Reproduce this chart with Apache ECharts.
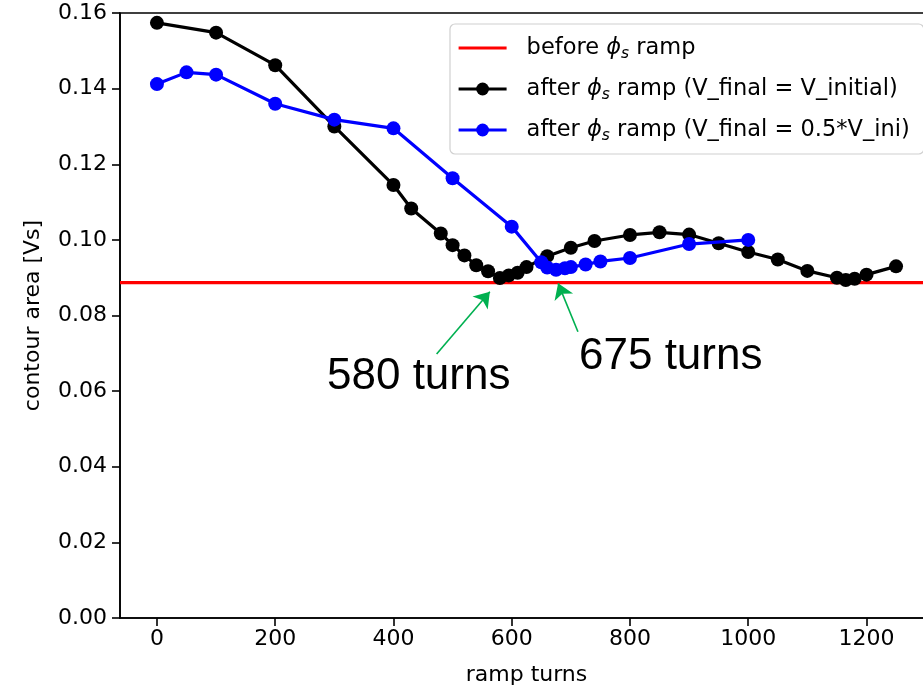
<!DOCTYPE html>
<html>
<head>
<meta charset="utf-8">
<script src="https://cdn.jsdelivr.net/npm/echarts@6/dist/echarts.min.js"></script>
<style>
  html, body { margin: 0; padding: 0; background: #fff; }
  #chart { width: 923px; height: 689px; }
</style>
</head>
<body>
<div id="chart"></div>
<script>
// Contour area vs. number of ramp turns
const xTicks = [0, 200, 400, 600, 800, 1000, 1200];
const xRange = [-62.5, 1312.5];

const beforeLevel = 0.0887;

const blackTurns = [0, 100, 200, 300, 400, 430, 480, 500, 520, 540, 560, 580, 595, 610, 625,
  660, 700, 740, 800, 850, 900, 950, 1000, 1050, 1100, 1150, 1165, 1180, 1200, 1250];
const blackArea = [0.1574, 0.1548, 0.1462, 0.1300, 0.1145, 0.1083, 0.1017, 0.0986, 0.0959,
  0.0933, 0.0917, 0.0899, 0.0906, 0.0913, 0.0928, 0.0957, 0.0979, 0.0997, 0.1013, 0.1020,
  0.1014, 0.0991, 0.0968, 0.0948, 0.0918, 0.0900, 0.0894, 0.0897, 0.0908, 0.0930];

const blueTurns = [0, 50, 100, 200, 300, 400, 500, 600, 650, 660, 675, 690, 700, 725, 750, 800, 900, 1000];
const blueArea = [0.1412, 0.1443, 0.1437, 0.1360, 0.1318, 0.1295, 0.1163, 0.1035, 0.0941,
  0.0927, 0.0921, 0.0925, 0.0928, 0.0935, 0.0943, 0.0952, 0.0989, 0.1000];

const seriesNames = [
  'before ϕs ramp',
  'after ϕs ramp (V_final = V_initial)',
  'after ϕs ramp (V_final = 0.5*V_ini)'
];

// annotation arrows (tail -> head), in turns / contour area
const arrowA = [[473, 0.0698], [563, 0.0863]];
const arrowB = [[712, 0.0757], [678.5, 0.0885]];
const noteA = '580 turns';
const noteB = '675 turns';

const pairs = (xs, ys) => xs.map((x, i) => [x, ys[i]]);

const FONT = 'DejaVu Sans';
const GREEN = '#00b050';
const LW = 3.2;

const chart = echarts.init(document.getElementById('chart'), null, { renderer: 'canvas' });

const option = {
  animation: false,
  backgroundColor: '#fff',
  grid: {
    left: 120, top: 13, right: -10, bottom: 71,
    show: true, borderColor: '#000', borderWidth: 1.6,
    containLabel: false, outerBoundsMode: 'none'
  },
  xAxis: {
    type: 'value',
    min: xRange[0], max: xRange[1],
    name: 'ramp turns',
    nameLocation: 'middle', nameGap: 46,
    nameTextStyle: { fontFamily: FONT, fontSize: 22, color: '#000' },
    axisLine: { show: true, onZero: false, lineStyle: { color: '#000', width: 1.6 } },
    axisTick: { show: true, inside: false, length: 8, lineStyle: { color: '#000', width: 1.6 }, customValues: xTicks },
    axisLabel: { fontFamily: FONT, fontSize: 22, color: '#000', margin: 10, customValues: xTicks,
      formatter: v => String(v) },
    splitLine: { show: false }
  },
  yAxis: {
    type: 'value',
    min: 0, max: 0.16, interval: 0.02,
    name: 'contour area [Vs]',
    nameLocation: 'middle', nameGap: 76, nameRotate: 90,
    nameTextStyle: { fontFamily: FONT, fontSize: 22, color: '#000' },
    axisLine: { show: true, onZero: false, lineStyle: { color: '#000', width: 1.6 } },
    axisTick: { show: true, inside: false, length: 8, lineStyle: { color: '#000', width: 1.6 } },
    axisLabel: { fontFamily: FONT, fontSize: 22, color: '#000', margin: 13,
      formatter: v => v.toFixed(2) },
    splitLine: { show: false }
  },
  legend: {
    data: [
      { name: seriesNames[0], itemStyle: { color: 'rgba(0,0,0,0)', borderWidth: 0, opacity: 0 } },
      { name: seriesNames[1] },
      { name: seriesNames[2] }
    ],
    orient: 'vertical',
    left: 450, top: 24,
    padding: [10, 14, 10, 7],
    itemWidth: 48, itemHeight: 16, itemGap: 13,
    lineStyle: { width: LW },
    backgroundColor: 'rgba(255,255,255,0.85)',
    borderColor: '#d0d0d0', borderWidth: 1.2, borderRadius: 5,
    formatter: name => name.replace('ϕs', '{phi|ϕ}{sub|s}'),
    textStyle: {
      fontFamily: FONT, fontSize: 22.5, color: '#000', padding: [0, 0, 0, 15], lineHeight: 27,
      rich: {
        phi: { fontFamily: FONT, fontStyle: 'italic', fontSize: 22.5, color: '#000', lineHeight: 27 },
        sub: { fontFamily: FONT, fontStyle: 'italic', fontSize: 15.5, color: '#000', lineHeight: 27, padding: [12, 0, 0, 0] }
      }
    }
  },
  series: [
    {
      name: seriesNames[0], type: 'line',
      data: xRange.map(x => [x, beforeLevel]),
      symbol: 'none', showSymbol: false,
      lineStyle: { color: '#ff0000', width: LW },
      itemStyle: { color: '#ff0000' },
      z: 2
    },
    {
      name: seriesNames[1], type: 'line',
      data: pairs(blackTurns, blackArea),
      symbol: 'circle', symbolSize: 14,
      lineStyle: { color: '#000', width: LW },
      itemStyle: { color: '#000' },
      z: 3
    },
    {
      name: seriesNames[2], type: 'line',
      data: pairs(blueTurns, blueArea),
      symbol: 'circle', symbolSize: 14,
      lineStyle: { color: '#0000ff', width: LW },
      itemStyle: { color: '#0000ff' },
      z: 4
    },
    {
      name: 'arrows', type: 'line', data: [],
      silent: true,
      markLine: {
        silent: true, animation: false,
        symbol: ['none', 'arrow'], symbolSize: 15,
        label: { show: false },
        emphasis: { disabled: true },
        itemStyle: { color: GREEN },
        lineStyle: { color: GREEN, width: 1.6, type: 'solid' },
        data: [
          [{ coord: arrowA[0] }, { coord: arrowA[1] }],
          [{ coord: arrowB[0] }, { coord: arrowB[1] }]
        ]
      },
      z: 5
    }
  ],
  graphic: [
    { type: 'text', left: 327, top: 355, z: 10,
      style: { text: noteA, font: '44px "Liberation Sans"', fill: '#000' } },
    { type: 'text', left: 579, top: 335, z: 10,
      style: { text: noteB, font: '44px "Liberation Sans"', fill: '#000' } }
  ]
};

chart.setOption(option);
</script>
</body>
</html>
